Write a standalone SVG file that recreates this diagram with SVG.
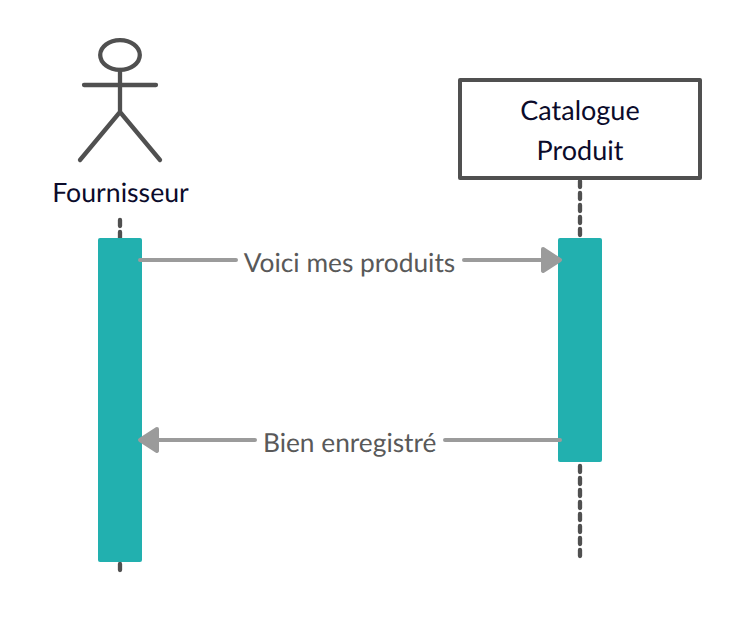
<svg xmlns="http://www.w3.org/2000/svg" width="740" height="620" viewBox="0 0 740 620">
<style>
text{font-family:Lato,"Open Sans","Liberation Sans",sans-serif;font-size:26.67px;text-anchor:middle;text-rendering:geometricPrecision}
.n{fill:#0b0b2b}
.c{font-size:27px}
.l{fill:#595959;font-size:26.3px}
.stick{fill:none;stroke:#505050;stroke-width:4.3;stroke-linecap:round;stroke-linejoin:round}
.life{fill:none;stroke:#505050;stroke-width:4.3;stroke-linecap:round;stroke-dasharray:6 6}
.act{fill:#22b0af}
.msg{fill:none;stroke:#9b9b9b;stroke-width:4;stroke-linecap:round}
.head{fill:#9b9b9b;stroke:#9b9b9b;stroke-width:4;stroke-linejoin:round}
</style>
<rect width="740" height="620" fill="#fff"/>
<g id="lifelines">
<path class="life" d="M120 220V240"/>
<path class="life" d="M120 564V574"/>
<path class="life" d="M580 181V240"/>
<path class="life" d="M580 466V556"/>
</g>
<g id="fournisseur">
<ellipse class="stick" cx="120" cy="55" rx="19.800" ry="14.800"/>
<path class="stick" d="M120 70V112M84 85H156M120 112L80 160M120 112L160 160"/>
<text class="n" x="120.500" y="202">Fournisseur</text>
</g>
<g id="catalogue">
<rect x="460" y="80" width="240" height="98" fill="#fff" stroke="#505050" stroke-width="4" stroke-linejoin="round"/>
<text class="n c" x="580" y="120">Catalogue</text>
<text class="n c" x="580" y="160">Produit</text>
</g>
<g id="activation-fournisseur"><rect class="act" x="98" y="238" width="44" height="324" rx="2"/></g>
<g id="activation-catalogue"><rect class="act" x="558" y="238" width="44" height="224" rx="2"/></g>
<g id="connectors">
<path class="msg" d="M140 260H236M464 260H544"/>
<polygon class="head" points="543,249 560,260 543,271"/>
<path class="msg" d="M560 440H445M255 440H156"/>
<polygon class="head" points="157,429 140,440 157,451"/>
<text class="l" x="349.500" y="272">Voici mes produits</text>
<text class="l" x="349.700" y="452">Bien enregistré</text>
</g>
</svg>
